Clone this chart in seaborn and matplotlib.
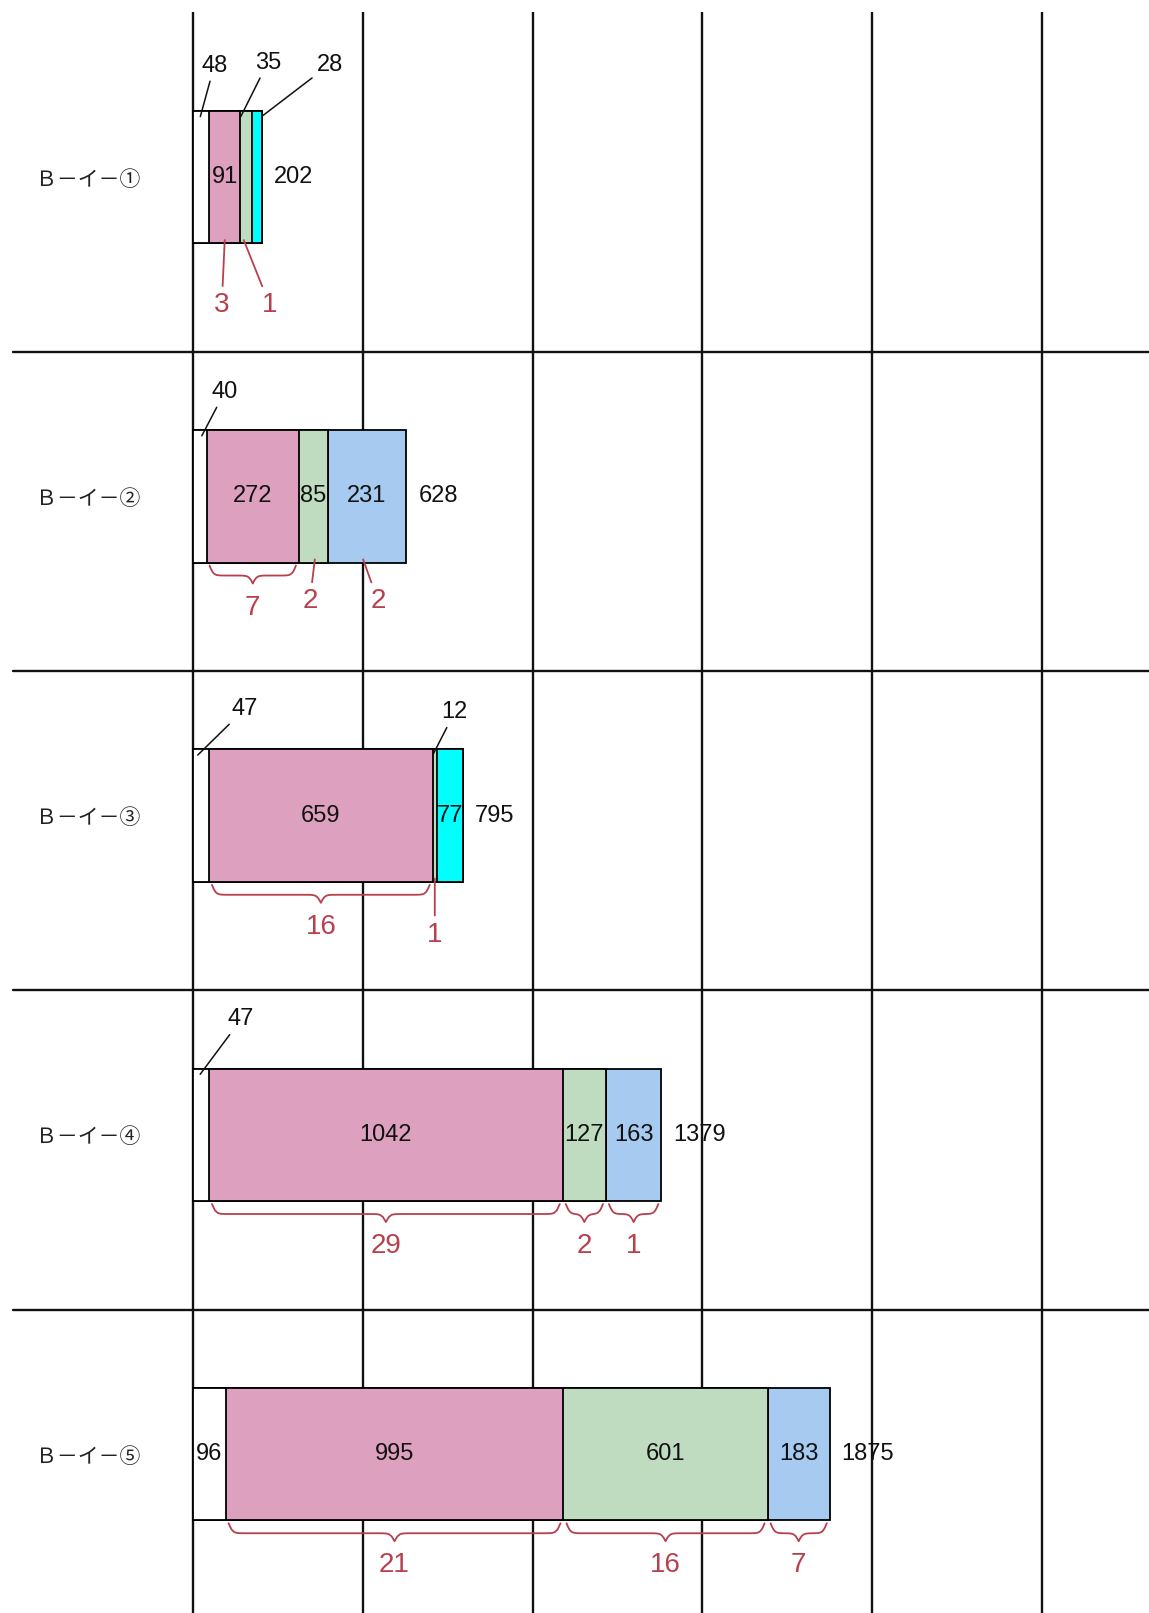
import numpy as np
import matplotlib
matplotlib.use("Agg")
import matplotlib.pyplot as plt
import seaborn as sns

# data
categories = ["Ｂ－イ－①", "Ｂ－イ－②", "Ｂ－イ－③", "Ｂ－イ－④", "Ｂ－イ－⑤"]
white_vals = [48, 40, 47, 47, 96]
pink_vals = [91, 272, 659, 1042, 995]
green_vals = [35, 85, 12, 127, 601]
cyan_vals = [28, 0, 77, 0, 0]
blue_vals = [0, 231, 0, 163, 183]
totals = [202, 628, 795, 1379, 1875]

pink_counts = [3, 7, 16, 29, 21]
green_counts = [1, 2, 1, 2, 16]
blue_counts = [None, 2, None, 1, 7]

grid_ticks = [0, 500, 1000, 1500, 2000, 2500]

series = [
    ("white", white_vals, "#FFFFFF"),
    ("pink", pink_vals, "#DDA0BE"),
    ("green", green_vals, "#C0DCC0"),
    ("cyan", cyan_vals, "#00FFFF"),
    ("blue", blue_vals, "#A6CAF0"),
]
counts = {"pink": pink_counts, "green": green_counts, "blue": blue_counts}

# layout / style
RED = "#B8404E"
BAR_H = 0.415
PX = 0.72  # pixels -> points at 100 dpi

# black callouts above the bar: (row, series) -> (frac along segment, dx px, dy px)
black_callouts = {
    (0, "white"): (0.45, 14, 51),
    (0, "green"): (0.05, 27, 54),
    (0, "cyan"): (1.0, 68, 52),
    (1, "white"): (0.65, 23, 44),
    (2, "white"): (0.3, 47, 46),
    (2, "green"): (0.0, 22, 43),
    (3, "white"): (0.45, 41, 55),
}
# red count markers below: (row, series) -> ("line", frac, dx px, dy px) or ("brace",)
red_marks = {
    (0, "pink"): ("line", 0.5, -3, 65),
    (0, "green"): ("line", 0.3, 26, 65),
    (1, "pink"): ("brace",),
    (1, "green"): ("line", 0.55, -5, 42),
    (1, "blue"): ("line", 0.45, 15, 42),
    (2, "pink"): ("brace",),
    (2, "green"): ("line", 0.5, 0, 56),
    (3, "pink"): ("brace",),
    (3, "green"): ("brace",),
    (3, "blue"): ("brace",),
    (4, "pink"): ("brace",),
    (4, "green"): ("brace",),
    (4, "blue"): ("brace",),
}

sns.set_theme(style="white")
plt.rcParams["font.family"] = ["Liberation Sans", "Noto Sans CJK JP", "DejaVu Sans"]

W, H = 1149, 1613
fig = plt.figure(figsize=(W / 100, H / 100), dpi=100)
ax = fig.add_axes([183 / W, 0, 966 / W, 1601 / H])

vals = np.array([s[1] for s in series], dtype=float)
cum = np.cumsum(vals, axis=0)
lefts = cum - vals

for k in reversed(range(len(series))):
    sns.barplot(x=cum[k], y=categories, orient="h", color=series[k][2],
                saturation=1, width=BAR_H, edgecolor="black", linewidth=1.3, ax=ax)

xlim = (-29.4, 2815.1)
ylim = (4.498, -0.517)
ax.set_xlim(*xlim)
ax.set_ylim(*ylim)
sx = 966 / (xlim[1] - xlim[0])
sy = 1601 / (ylim[0] - ylim[1])

ax.set_xlabel("")
ax.set_ylabel("")
for sp in ax.spines.values():
    sp.set_visible(False)
ax.set_xticks(grid_ticks)
ax.set_axisbelow(True)
ax.xaxis.grid(True, color="#111111", linewidth=1.7)
ax.yaxis.grid(False)
ax.tick_params(axis="x", length=0, labelbottom=False)
ax.tick_params(axis="y", length=0, pad=147 * PX, labelsize=15, labelcolor="#222222")
for lab in ax.get_yticklabels():
    lab.set_ha("left")
    lab.set_family("Noto Sans CJK JP")

# row separators
for i in range(len(categories) - 1):
    ax.axhline(i + 0.548, xmin=-170 / 966, xmax=1, color="#111111",
               linewidth=1.7, clip_on=False)


def brace(x0, x1, yb):
    w = (x1 - x0) * sx - 6
    t = np.linspace(0, w / 2, 60)
    sig = lambda z: 1 / (1 + np.exp(-z))
    yp = 3 + 10 * 2 * (sig(0.5 * t) - 0.5) + 8 * 2 * sig(0.5 * (t - w / 2))
    xs = np.concatenate([t, w - t[::-1]]) + 3
    ys = np.concatenate([yp, yp[::-1]])
    ax.plot(x0 + xs / sx, yb + ys / sy, color=RED, linewidth=1.3, clip_on=False)


for r in range(len(categories)):
    top = r - BAR_H / 2
    bot = r + BAR_H / 2
    for k, (name, sv, col) in enumerate(series):
        v = sv[r]
        if v == 0:
            continue
        x0 = lefts[k][r]
        if v >= 60:
            ax.text(x0 + v / 2, r, str(v), ha="center", va="center", fontsize=17,
                    color="#111111")
        elif (r, name) in black_callouts:
            frac, dx, dy = black_callouts[(r, name)]
            ax.annotate(str(v), xy=(x0 + frac * v, top + 0.018),
                        xytext=(dx * PX, dy * PX), textcoords="offset points",
                        ha="center", va="center", fontsize=17, color="#111111",
                        arrowprops=dict(arrowstyle="-", color="#111111", lw=1.1,
                                        shrinkA=1, shrinkB=0))
        mark = red_marks.get((r, name))
        if mark is None or counts[name][r] is None:
            continue
        n = counts[name][r]
        if mark[0] == "brace":
            brace(x0, x0 + v, bot)
            ax.annotate(str(n), xy=(x0 + v / 2, bot), xytext=(0, -45 * PX),
                        textcoords="offset points", ha="center", va="center",
                        fontsize=20, color=RED)
        else:
            _, frac, dx, dy = mark
            ax.annotate(str(n), xy=(x0 + frac * v, bot - 0.01),
                        xytext=(dx * PX, -dy * PX), textcoords="offset points",
                        ha="center", va="center", fontsize=20, color=RED,
                        arrowprops=dict(arrowstyle="-", color=RED, lw=1.3,
                                        shrinkA=2, shrinkB=0))
    ax.annotate(str(totals[r]), xy=(totals[r], r), xytext=(12 * PX, 0),
                textcoords="offset points", ha="left", va="center", fontsize=17,
                color="#111111")

fig.savefig("out.png", dpi=100)
